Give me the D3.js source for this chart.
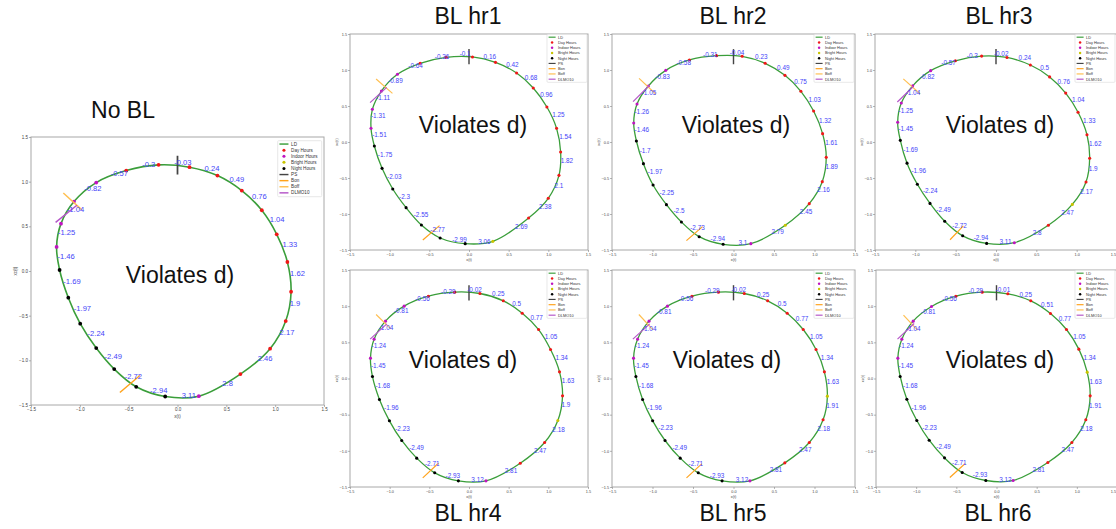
<!DOCTYPE html>
<html><head><meta charset="utf-8">
<script src="https://cdn.jsdelivr.net/npm/d3@7"></script>
<style>body{margin:0;background:#fff}svg{display:block}</style>
</head><body>
<svg id="c" width="1116" height="529"></svg>
<script>
// ---------------- data ----------------
const tickValues = [-1.5, -1, -0.5, 0, 0.5, 1, 1.5];
const tickLabels = ["\u22121.5", "\u22121.0", "\u22120.5", "0.0", "0.5", "1.0", "1.5"];
const legendNames = ["LD", "Day Hours", "Indoor Hours", "Bright Hours", "Night Hours", "PS", "Bon", "Boff", "DLMO10"];
const panelTitles = ["No BL", "BL hr1", "BL hr2", "BL hr3", "BL hr4", "BL hr5", "BL hr6"];
const bigNote = "Violates d)";
const xAxisLabel = "x(t)";
const yAxisLabel = "xc(t)";

// hourly markers (x, y) and kind: D day, I indoor, B bright, N night
const noBL_x = [-0.832,-0.525,-0.194,0.123,0.409,0.658,0.863,1.016,1.125,1.163,1.108,0.948,0.644,0.218,-0.126,-0.423,-0.648,-0.832,-0.996,-1.118,-1.207,-1.238,-1.193,-1.060];
const noBL_y = [0.990,1.124,1.188,1.162,1.068,0.900,0.680,0.411,0.101,-0.232,-0.560,-0.870,-1.154,-1.401,-1.405,-1.296,-1.098,-0.863,-0.590,-0.299,0.011,0.269,0.530,0.777];
const noBL_kind = "IDDDDDDDDDDDDINNNNNNNIII";
const noBL_labels = ["-0.82","-0.57","-0.3","-0.03","0.24","0.49","0.76","1.04","1.33","1.62","1.9","2.17","2.46","2.8","3.11","-2.94","-2.72","-2.49","-2.24","-1.97","-1.69","-1.46","-1.25","-1.04"];

const hr1_x = [-0.902,-0.616,-0.288,0.044,0.334,0.600,0.810,0.982,1.104,1.155,1.134,0.999,0.751,0.301,-0.048,-0.364,-0.600,-0.793,-0.961,-1.096,-1.193,-1.235,-1.218,-1.104];
const hr1_y = [0.940,1.093,1.176,1.181,1.106,0.958,0.750,0.486,0.190,-0.139,-0.463,-0.782,-1.056,-1.380,-1.412,-1.333,-1.153,-0.912,-0.653,-0.366,-0.056,0.190,0.454,0.708];
const hr1_kind = "IDDDDDDDDDDDDBNNNNNNNIII";
const hr1_labels = ["-0.89","-0.64","-0.36","-0.1","0.16","0.42","0.68","0.96","1.25","1.54","1.82","2.1","2.38","2.69","3.06","-2.99","-2.77","-2.55","-2.3","-2.03","-1.75","-1.51","-1.31","-1.11"];

const hr2_x = [-0.836,-0.544,-0.210,0.107,0.391,0.635,0.832,0.989,1.100,1.145,1.096,0.935,0.639,0.214,-0.128,-0.424,-0.643,-0.828,-0.993,-1.112,-1.199,-1.232,-1.191,-1.051];
const hr2_y = [0.995,1.139,1.199,1.190,1.093,0.926,0.704,0.431,0.116,-0.213,-0.551,-0.856,-1.157,-1.412,-1.421,-1.315,-1.111,-0.870,-0.597,-0.301,0.014,0.264,0.528,0.778];
const hr2_kind = "IDDDDDDDDDDDBINNNNNNNIII";
const hr2_labels = ["-0.83","-0.58","-0.31","-0.04","0.23","0.49","0.75","1.03","1.32","1.61","1.89","2.16","2.45","2.79","3.1","-2.94","-2.73","-2.5","-2.25","-1.97","-1.7","-1.46","-1.26","-1.05"];

const hr3_x = [-0.810,-0.504,-0.178,0.136,0.426,0.665,0.864,1.017,1.128,1.161,1.116,0.946,0.649,0.227,-0.116,-0.413,-0.636,-0.818,-0.975,-1.103,-1.186,-1.219,-1.174,-1.033];
const hr3_y = [0.991,1.128,1.193,1.174,1.069,0.904,0.679,0.413,0.101,-0.225,-0.555,-0.867,-1.156,-1.399,-1.408,-1.303,-1.101,-0.853,-0.587,-0.294,0.023,0.275,0.541,0.780];
const hr3_kind = "IDDDDDDDDDDBDINNNNNNNIII";
const hr3_labels = ["-0.82","-0.57","-0.3","-0.02","0.24","0.5","0.76","1.04","1.33","1.62","1.9","2.17","2.47","2.8","3.11","-2.94","-2.72","-2.49","-2.24","-1.96","-1.69","-1.45","-1.25","-1.04"];

const hr4_x = [-0.818,-0.512,-0.180,0.138,0.432,0.671,0.877,1.028,1.141,1.179,1.120,0.953,0.646,0.214,-0.134,-0.432,-0.659,-0.848,-1.003,-1.129,-1.217,-1.242,-1.196,-1.053];
const hr4_y = [1.000,1.138,1.194,1.175,1.074,0.903,0.677,0.401,0.092,-0.240,-0.581,-0.885,-1.171,-1.415,-1.415,-1.304,-1.101,-0.857,-0.585,-0.290,0.028,0.281,0.544,0.793];
const hr4_kind = "IDDDDDDDDDBDDINNNNNNNIII";
const hr4_labels = ["-0.81","-0.56","-0.29","-0.02","0.25","0.5","0.77","1.05","1.34","1.63","1.9","2.18","2.47","2.81","3.12","-2.93","-2.71","-2.49","-2.23","-1.96","-1.68","-1.45","-1.24","-1.04"];

const hr5_x = [-0.816,-0.513,-0.186,0.133,0.422,0.663,0.861,1.019,1.122,1.159,1.106,0.936,0.634,0.203,-0.141,-0.435,-0.658,-0.845,-0.998,-1.122,-1.205,-1.234,-1.184,-1.043];
const hr5_y = [1.000,1.138,1.194,1.175,1.074,0.903,0.677,0.401,0.092,-0.244,-0.571,-0.885,-1.166,-1.415,-1.415,-1.304,-1.101,-0.857,-0.585,-0.290,0.028,0.281,0.544,0.793];
const hr5_kind = "IDDDDDDDDBDDDINNNNNNNIII";
const hr5_labels = ["-0.81","-0.56","-0.29","-0.02","0.25","0.5","0.77","1.05","1.34","1.63","1.91","2.18","2.47","2.81","3.12","-2.93","-2.71","-2.49","-2.23","-1.96","-1.68","-1.45","-1.24","-1.04"];

const hr6_x = [-0.809,-0.506,-0.178,0.141,0.427,0.672,0.871,1.025,1.129,1.166,1.112,0.938,0.639,0.207,-0.133,-0.427,-0.647,-0.838,-0.992,-1.116,-1.199,-1.228,-1.178,-1.037];
const hr6_y = [0.995,1.138,1.194,1.171,1.074,0.899,0.677,0.406,0.088,-0.240,-0.571,-0.885,-1.161,-1.410,-1.410,-1.300,-1.097,-0.853,-0.581,-0.286,0.028,0.281,0.544,0.793];
const hr6_kind = "IDDDDDDDBDDDDINNNNNNNIII";
const hr6_labels = ["-0.81","-0.56","-0.29","-0.01","0.25","0.51","0.77","1.05","1.34","1.63","1.91","2.18","2.47","2.81","3.12","-2.93","-2.71","-2.49","-2.23","-1.96","-1.68","-1.45","-1.24","-1.04"];

// annotation segments [x1, y1, x2, y2]
const ps_seg = [0, 1.08, 0, 1.29];
const boff_segs = [[-1.169,0.874,-0.982,0.687],[-1.171,0.875,-0.965,0.676],[-1.166,0.884,-0.960,0.667],[-1.149,0.876,-0.942,0.670],[-1.171,0.885,-0.986,0.687],[-1.168,0.885,-0.994,0.673],[-1.158,0.876,-0.983,0.668]];
const bon_segs = [[-0.590,-1.360,-0.385,-1.169],[-0.582,-1.361,-0.372,-1.162],[-0.581,-1.370,-0.383,-1.176],[-0.570,-1.358,-0.405,-1.165],[-0.583,-1.373,-0.386,-1.171],[-0.580,-1.373,-0.393,-1.180],[-0.581,-1.369,-0.390,-1.175]];
const dlmo_segs = [[-1.248,0.545,-1.030,0.736],[-1.247,0.546,-1.037,0.759],[-1.240,0.560,-1.034,0.792],[-1.223,0.555,-1.025,0.771],[-1.246,0.544,-1.036,0.756],[-1.242,0.544,-1.035,0.756],[-1.232,0.544,-1.025,0.760]];

// ---------------- layout / style ----------------
const C = {LD:"#3a9e3a", D:"#f01818", I:"#c014c0", B:"#c8c400", N:"#000000", PS:"#444444", Bon:"#ffa21a", Boff:"#ffbf50", DLMO:"#b455c8", lab:"#4444f8"};
const small = {lab:6.4, mr:1.55, lw:1.3, tick:3.8, leg:{w:40, h:48, dy:5.25, font:3.9, line:7}};
const layouts = [
  {x0:31, x1:324, y0:137, y1:405, lab:7.6, mr:1.9, lw:1.6, tick:4.5,
   leg:{x:277.7, y:140.7, w:44, h:56, dy:6.1, font:4.6, line:9},
   title:{x:123, y:118, size:23, fam:"Liberation Sans, Arial, sans-serif"}, vio:{x:180, y:275}},
  {x0:350, x1:588, y0:34, y1:250, title:{x:468, y:24}, vio:{x:473, y:125}},
  {x0:612, x1:855, y0:34, y1:250, title:{x:733, y:24}, vio:{x:736, y:125}},
  {x0:875, x1:1117, y0:34, y1:250, title:{x:999, y:24}, vio:{x:1000, y:125}},
  {x0:350, x1:588, y0:270, y1:487, title:{x:468, y:521}, vio:{x:463, y:360}},
  {x0:612, x1:855, y0:270, y1:487, title:{x:733, y:521}, vio:{x:727, y:360}},
  {x0:876, x1:1117, y0:270, y1:487, title:{x:998, y:521}, vio:{x:1000, y:360}}
];
const series = [
  [noBL_x, noBL_y, noBL_kind, noBL_labels],
  [hr1_x, hr1_y, hr1_kind, hr1_labels],
  [hr2_x, hr2_y, hr2_kind, hr2_labels],
  [hr3_x, hr3_y, hr3_kind, hr3_labels],
  [hr4_x, hr4_y, hr4_kind, hr4_labels],
  [hr5_x, hr5_y, hr5_kind, hr5_labels],
  [hr6_x, hr6_y, hr6_kind, hr6_labels]
];

const svg = d3.select("#c");
const FONT = "'Liberation Sans', Arial, sans-serif";
const W = 1116;

layouts.forEach((L, pi) => {
  const st = Object.assign({}, small, L);
  if (!L.leg) st.leg = Object.assign({x: Math.min(L.x1, W) - 41, y: L.y0 + 0.3}, small.leg);
  const [xs, ys, kinds, labels] = series[pi];
  const x = d3.scaleLinear().domain([-1.5, 1.5]).range([L.x0, L.x1]);
  const y = d3.scaleLinear().domain([-1.5, 1.5]).range([L.y1, L.y0]);
  const g = svg.append("g");

  // axes
  const axB = d3.axisBottom(x).tickValues(tickValues).tickFormat((d, i) => tickLabels[i]).tickSize(1.8).tickPadding(1.2);
  const axL = d3.axisLeft(y).tickValues(tickValues).tickFormat((d, i) => tickLabels[i]).tickSize(1.8).tickPadding(1.2);
  [[axB, `translate(0,${L.y1})`, true], [axL, `translate(${L.x0},0)`, false]].forEach(([a, t, bottom]) => {
    const ag = g.append("g").attr("transform", t).call(a);
    ag.select(".domain").remove();
    ag.selectAll("line").attr("stroke", "#666").attr("stroke-width", 0.6);
    ag.selectAll("text").attr("font-size", st.tick).attr("font-family", FONT).attr("fill", "#444");
    // keep the last x tick label inside the picture when the axis reaches the edge
    if (bottom && L.x1 + 4 > W) {
      ag.selectAll(".tick text").filter(d => d === 1.5)
        .attr("text-anchor", "end").attr("dx", W - 0.5 - L.x1);
    }
  });
  g.append("text").attr("x", (L.x0 + L.x1) / 2).attr("y", L.y1 + st.tick * 2.9)
    .attr("text-anchor", "middle").attr("font-size", st.tick).attr("font-family", FONT).attr("fill", "#444").text(xAxisLabel);
  g.append("text").attr("transform", `translate(${L.x0 - st.tick * 3.2},${(L.y0 + L.y1) / 2}) rotate(-90)`)
    .attr("text-anchor", "middle").attr("font-size", st.tick).attr("font-family", FONT).attr("fill", "#444").text(yAxisLabel);

  g.append("rect").attr("x", L.x0).attr("y", L.y0).attr("width", L.x1 - L.x0).attr("height", L.y1 - L.y0)
    .attr("fill", "none").attr("stroke", "#a8a8a8").attr("stroke-width", 1);

  // LD curve
  const pts = xs.map((v, i) => [v, ys[i]]);
  const line = d3.line().x(d => x(d[0])).y(d => y(d[1])).curve(d3.curveCatmullRomClosed.alpha(0.5));
  const path = g.append("path").attr("d", line(pts)).attr("fill", "none").attr("stroke", C.LD).attr("stroke-width", st.lw);

  // markers
  g.selectAll("circle.m").data(pts).join("circle").attr("class", "m")
    .attr("cx", d => x(d[0])).attr("cy", d => y(d[1])).attr("r", st.mr)
    .attr("fill", (d, i) => C[kinds[i]]);

  // annotation segments
  const seg = (s, col, w) => g.append("line").attr("x1", x(s[0])).attr("y1", y(s[1])).attr("x2", x(s[2])).attr("y2", y(s[3]))
    .attr("stroke", col).attr("stroke-width", w);
  seg(ps_seg, C.PS, st.lw * 1.1);
  seg(boff_segs[pi], C.Boff, st.lw * 0.9);
  seg(bon_segs[pi], C.Bon, st.lw * 0.9);
  seg(dlmo_segs[pi], C.DLMO, st.lw * 0.9);

  // phase labels: anchored where the LD curve reaches the labelled angle
  const node = path.node();
  const total = node.getTotalLength();
  const samples = d3.range(0, 1200).map(k => {
    const p = node.getPointAtLength(total * k / 1200);
    const dx = x.invert(p.x), dy = y.invert(p.y);
    return {px: p.x, py: p.y, a: Math.atan2(dx, dy)};
  });
  labels.forEach(t => {
    const th = +t;
    let best = samples[0], bd = 1e9;
    samples.forEach(s => {
      let d = Math.abs(s.a - th); if (d > Math.PI) d = 2 * Math.PI - d;
      if (d < bd) { bd = d; best = s; }
    });
    g.append("text").attr("x", best.px).attr("y", best.py).attr("font-size", st.lab)
      .attr("font-family", FONT).attr("fill", C.lab).text(t);
  });

  // legend
  const lg = st.leg;
  const leg = g.append("g");
  leg.append("rect").attr("x", lg.x).attr("y", lg.y).attr("width", lg.w).attr("height", lg.h).attr("rx", 1)
    .attr("fill", "#fff").attr("fill-opacity", 0.85).attr("stroke", "#d8d8d8").attr("stroke-width", 0.6);
  const legCols = [C.LD, C.D, C.I, C.B, C.N, C.PS, C.Bon, C.Boff, C.DLMO];
  legendNames.forEach((n, i) => {
    const yy = lg.y + lg.dy * 0.55 + i * lg.dy;
    const lx = lg.x + lg.w * 0.04;
    if (i >= 1 && i <= 4) {
      leg.append("circle").attr("cx", lx + lg.line / 2).attr("cy", yy).attr("r", st.mr * 0.8).attr("fill", legCols[i]);
    } else {
      leg.append("line").attr("x1", lx).attr("x2", lx + lg.line).attr("y1", yy).attr("y2", yy)
        .attr("stroke", legCols[i]).attr("stroke-width", st.lw * 0.9);
    }
    leg.append("text").attr("x", lx + lg.line + lg.w * 0.06).attr("y", yy + lg.font * 0.35)
      .attr("font-size", lg.font).attr("font-family", FONT).attr("fill", "#333").text(n);
  });

  // big overlay note
  g.append("text").attr("x", L.vio.x).attr("y", L.vio.y + 8.2).attr("text-anchor", "middle")
    .attr("font-size", 23).attr("font-family", FONT).attr("fill", "#111").text(bigNote);

  // panel title
  const tt = L.title;
  svg.append("text").attr("x", tt.x).attr("y", tt.y).attr("text-anchor", "middle")
    .attr("font-size", tt.size || 23).attr("font-family", tt.fam || "'Liberation Sans Narrow', 'Liberation Sans', Arial, sans-serif")
    .attr("fill", "#111").text(panelTitles[pi]);
});
</script>
</body></html>
